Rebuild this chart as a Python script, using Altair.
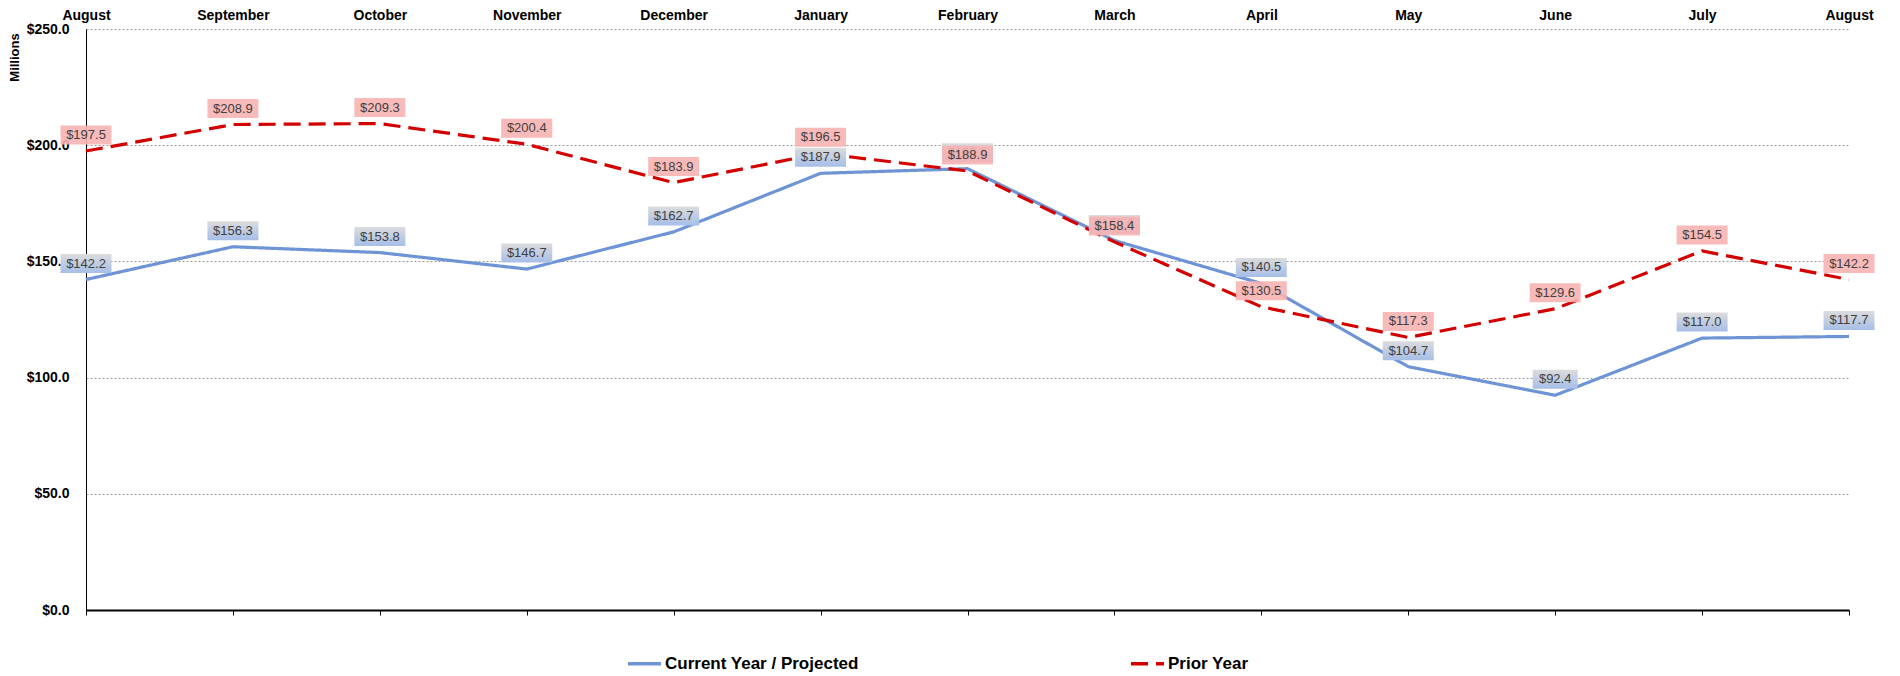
import json
import altair as alt
import pandas as pd

months = ["August", "September", "October", "November", "December", "January",
          "February", "March", "April", "May", "June", "July", "August"]
current = [142.2, 156.3, 153.8, 146.7, 162.7, 187.9, 189.9, 159.0, 140.5, 104.7, 92.4, 117.0, 117.7]
prior = [197.5, 208.9, 209.3, 200.4, 183.9, 196.5, 188.9, 158.4, 130.5, 117.3, 129.6, 154.5, 142.2]
series_names = ["Current Year / Projected", "Prior Year"]
y_ticks = [0, 50, 100, 150, 200, 250]

rows = []
for i, m in enumerate(months):
    rows.append({"i": i, "month": m, "series": series_names[0], "value": current[i]})
    rows.append({"i": i, "month": m, "series": series_names[1], "value": prior[i]})
df = pd.DataFrame(rows)

FONT = "Liberation Sans"
BLUE = "#6f94d6"
RED = "#d20000"

xscale = alt.Scale(domain=[0, len(months) - 1], nice=False, zero=False)
yscale = alt.Scale(domain=[0, 250], nice=False)

y_enc = alt.Y(
    "value:Q", scale=yscale,
    axis=alt.Axis(values=y_ticks, format="$.1f", grid=True, gridDash=[2, 2],
                  gridColor="#9a9a9a", gridWidth=1, ticks=False, tickSize=0,
                  domain=True, domainColor="black", domainWidth=1,
                  labelPadding=17, labelFont=FONT, labelFontSize=14,
                  labelFontWeight="bold", labelColor="black",
                  title="Millions", titleFont=FONT, titleFontSize=13,
                  titleFontWeight="bold", titleColor="black", titlePadding=5,
                  titleY=28, titleAlign="center"),
)

x_bottom = alt.X(
    "i:Q", scale=xscale,
    axis=alt.Axis(orient="bottom", values=list(range(len(months))), labels=False,
                  ticks=True, tickSize=5, tickColor="black", tickWidth=1,
                  domain=True, domainColor="black", domainWidth=2, grid=False,
                  title=None),
)
x_top = alt.X(
    "i:Q", scale=xscale,
    axis=alt.Axis(orient="top", values=list(range(len(months))),
                  labelExpr=json.dumps(months) + "[datum.value]",
                  ticks=False, tickSize=0, domain=False, grid=False,
                  labelFont=FONT, labelFontSize=14, labelFontWeight="bold",
                  labelColor="black", labelPadding=7, labelFlush=False,
                  labelOverlap=False, title=None),
)
x_none = alt.X("i:Q", scale=xscale, axis=None)

legend = alt.Legend(orient="none", legendX=540, legendY=616, direction="horizontal",
                    title=None, symbolType="stroke", symbolSize=1089,
                    symbolStrokeWidth=3.5, labelFont=FONT, labelFontSize=17,
                    labelFontWeight="bold", labelColor="black", labelOffset=2,
                    labelLimit=500, columnPadding=265, padding=0)

lines = alt.Chart(df).mark_line(strokeWidth=3.2).encode(
    x=x_bottom,
    y=y_enc,
    color=alt.Color("series:N", scale=alt.Scale(domain=series_names, range=[BLUE, RED]),
                    legend=legend),
    strokeDash=alt.StrokeDash("series:N",
                              scale=alt.Scale(domain=series_names, range=[[1, 0], [17, 8]]),
                              legend=legend),
)

grad = alt.LinearGradient(
    gradient="linear",
    stops=[alt.GradientStop(color="#dcdcdc", offset=0),
           alt.GradientStop(color="#a6bee8", offset=1)],
    x1=0, x2=0, y1=0, y2=1,
)

base = alt.Chart(df)
cur = base.transform_filter(alt.datum.series == series_names[0])
pri = base.transform_filter(alt.datum.series == series_names[1])

cur_box_wide = cur.transform_filter(alt.datum.value >= 100).mark_rect(
    width=51, height=19, yOffset=-16, fill=grad).encode(x=x_none, y=y_enc)
cur_box_narrow = cur.transform_filter(alt.datum.value < 100).mark_rect(
    width=45, height=19, yOffset=-16, fill=grad).encode(x=x_none, y=y_enc)
cur_text = cur.mark_text(dy=-16, fontSize=13, font=FONT, color="#404040",
                         baseline="middle", align="center").encode(
    x=x_top, y=y_enc, text=alt.Text("value:Q", format="$.1f"))

pri_box = pri.mark_rect(width=51, height=19, yOffset=-16, fill="#f8b2b2",
                        opacity=0.9).encode(x=x_none, y=y_enc)
pri_text = pri.mark_text(dy=-16, fontSize=13, font=FONT, color="#404040",
                         baseline="middle", align="center").encode(
    x=x_none, y=y_enc, text=alt.Text("value:Q", format="$.1f"))

chart = alt.layer(lines, cur_box_wide, cur_box_narrow, cur_text, pri_box, pri_text).resolve_axis(
    x="independent"
).properties(
    width=1763, height=581,
    padding={"left": 0, "top": 0, "right": 0, "bottom": 0},
    background="white",
).configure_view(stroke=None)

chart.save("out.html", embed_options={"renderer": "svg", "actions": False})
